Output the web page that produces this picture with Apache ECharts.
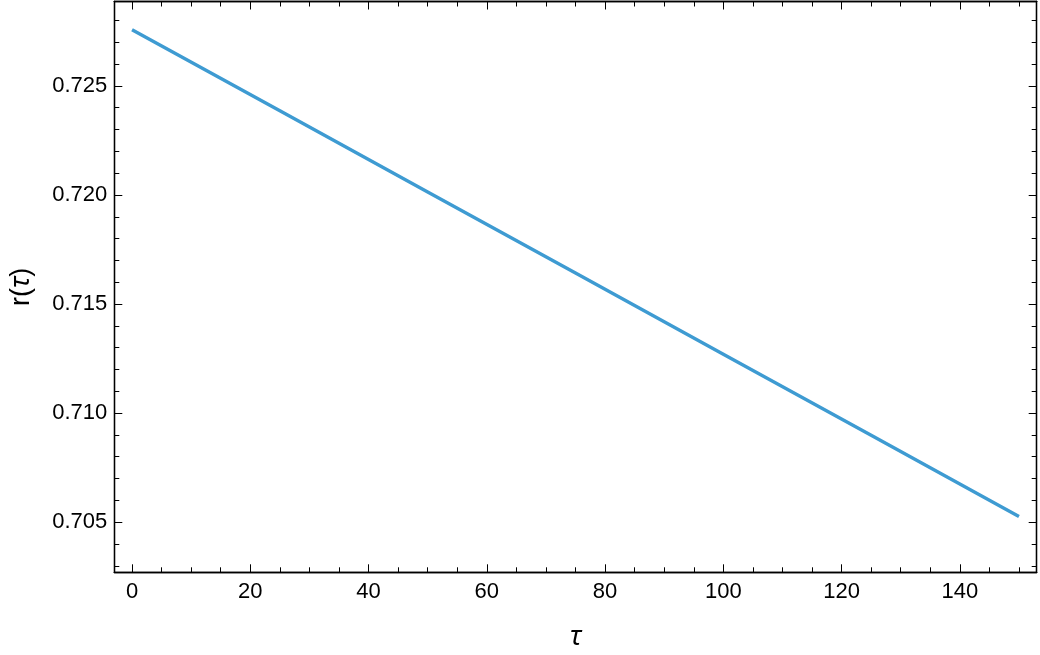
<!DOCTYPE html>
<html>
<head>
<meta charset="utf-8">
<script src="https://cdn.jsdelivr.net/npm/echarts@6/dist/echarts.min.js"></script>
<style>
  html, body { margin: 0; padding: 0; background: #fff; }
  #chart { width: 1040px; height: 655px; }
</style>
</head>
<body>
<div id="chart"></div>
<script>
// values
const tau = [0, 25, 50, 75, 100, 125, 150];
const r = [0.72758, 0.72386, 0.72014, 0.71642, 0.71270, 0.70898, 0.70526];

const xMajor = [0, 20, 40, 60, 80, 100, 120, 140];
const xMinor = [5, 10, 15, 25, 30, 35, 45, 50, 55, 65, 70, 75, 85, 90, 95, 105, 110, 115, 125, 130, 135, 145, 150];
const yMajor = [0.705, 0.710, 0.715, 0.720, 0.725];
const yMinor = [0.703, 0.704, 0.706, 0.707, 0.708, 0.709, 0.711, 0.712, 0.713, 0.714,
  0.716, 0.717, 0.718, 0.719, 0.721, 0.722, 0.723, 0.724, 0.726, 0.727, 0.728];

const xMin = -3, xMax = 153;
const yMin = 0.7027, yMax = 0.72887;

const font = 'Liberation Sans, Arial, sans-serif';
const lineStyle = { color: '#000', width: 1.3 };

function xAx(pos, ticks, len, opts) {
  return Object.assign({
    type: 'value', position: pos, min: xMin, max: xMax,
    axisLine: { show: true, onZero: false, lineStyle },
    axisTick: { show: true, inside: true, length: len, customValues: ticks, lineStyle: { color: '#000', width: 1 } },
    axisLabel: { show: false },
    splitLine: { show: false }
  }, opts || {});
}
function yAx(pos, ticks, len, opts) {
  return Object.assign({
    type: 'value', position: pos, min: yMin, max: yMax,
    axisLine: { show: true, onZero: false, lineStyle },
    axisTick: { show: true, inside: true, length: len, customValues: ticks, lineStyle: { color: '#000', width: 1 } },
    axisLabel: { show: false },
    splitLine: { show: false }
  }, opts || {});
}

const chart = echarts.init(document.getElementById('chart'));
chart.setOption({
  animation: false,
  grid: { left: 114.3, right: 3.3, top: 1.5, bottom: 82.7, outerBoundsMode: 'none', containLabel: false },
  xAxis: [
    xAx('bottom', xMajor, 8, {
      axisLabel: { show: true, customValues: xMajor, color: '#000', fontSize: 22, fontFamily: font, margin: 9 },
      name: 'τ', nameLocation: 'middle', nameGap: 52,
      nameTextStyle: { color: '#000', fontSize: 27, fontStyle: 'italic', fontFamily: 'Noto Sans, sans-serif' }
    }),
    xAx('bottom', xMinor, 5),
    xAx('top', xMajor, 8),
    xAx('top', xMinor, 5)
  ],
  yAxis: [
    yAx('left', yMajor, 8, {
      axisLabel: { show: true, customValues: yMajor, color: '#000', fontSize: 22, fontFamily: font, margin: 7,
        formatter: v => v.toFixed(3) },
      name: '{a|r(}{b|τ}{a|)}', nameLocation: 'middle', nameGap: 79,
      nameTextStyle: {
        rich: {
          a: { color: '#000', fontSize: 27, fontFamily: font },
          b: { color: '#000', fontSize: 27, fontFamily: 'Noto Sans, sans-serif', fontStyle: 'italic' }
        }
      }
    }),
    yAx('left', yMinor, 5),
    yAx('right', yMajor, 8),
    yAx('right', yMinor, 5)
  ],
  series: [{
    type: 'line',
    data: tau.map((t, i) => [t, r[i]]),
    showSymbol: false,
    lineStyle: { color: '#3e9bd2', width: 3.4 },
    xAxisIndex: 0, yAxisIndex: 0
  }]
});
</script>
</body>
</html>
